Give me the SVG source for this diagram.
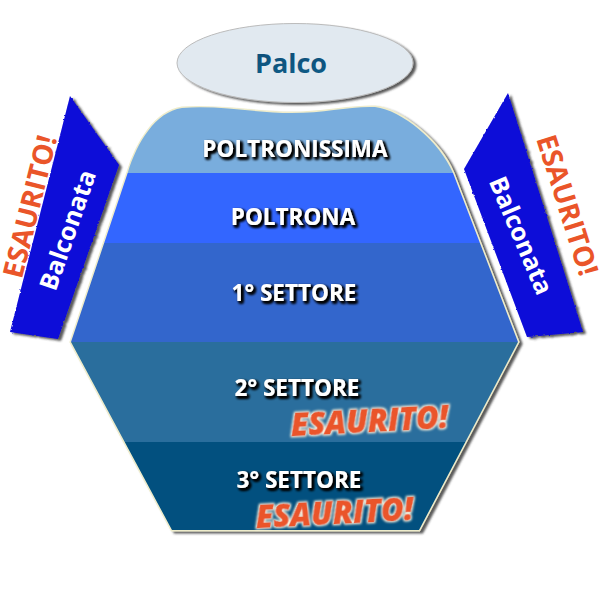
<svg xmlns="http://www.w3.org/2000/svg" width="600" height="600" viewBox="0 0 600 600">
<style>
.t{font-family:"Open Sans","Noto Sans",sans-serif;font-weight:700;text-anchor:middle}
.s{fill:#fff;font-size:22.500px;filter:url(#ts)}
.b{fill:#fff;font-size:25px}
.e{fill:#ea5529}
.ei{font-size:31px;font-style:italic;font-weight:800;stroke:#ea5529;stroke-width:.6;filter:url(#eg)}
.bal{fill:#0a08d8;filter:url(#rough)}
</style>
<defs>
<filter id="ds" x="-20%" y="-20%" width="140%" height="140%"><feDropShadow dx="3" dy="2" stdDeviation="1.200" flood-color="#333" flood-opacity=".8"/></filter>
<filter id="rough" x="-20%" y="-20%" width="140%" height="140%"><feTurbulence type="fractalNoise" baseFrequency=".35" numOctaves="1" seed="3" result="n"/><feDisplacementMap in="SourceGraphic" in2="n" scale="2.500" xChannelSelector="R" yChannelSelector="G" result="d"/><feDropShadow in="d" dx="3" dy="2" stdDeviation="1.200" flood-color="#333" flood-opacity=".8"/></filter>
<filter id="ts" x="-20%" y="-40%" width="140%" height="180%"><feGaussianBlur in="SourceAlpha" stdDeviation="1.600" result="b"/><feOffset in="b" dx="2" dy="2" result="o"/><feFlood flood-color="#000"/><feComposite in2="o" operator="in" result="c"/><feMerge><feMergeNode in="c"/><feMergeNode in="c"/><feMergeNode in="c"/><feMergeNode in="SourceGraphic"/></feMerge></filter>
<filter id="eg" x="-20%" y="-40%" width="140%" height="180%"><feMorphology in="SourceAlpha" operator="dilate" radius="1.200" result="d"/><feGaussianBlur in="d" stdDeviation=".8" result="b"/><feFlood flood-color="#fff6e0"/><feComposite in2="b" operator="in"/><feMerge><feMergeNode/><feMergeNode in="SourceGraphic"/></feMerge></filter>
<linearGradient id="pg" x1="0" y1="0" x2="0" y2="1"><stop offset="0" stop-color="#0d4a75"/><stop offset="1" stop-color="#0f5f8a"/></linearGradient>
<path id="hall" d="M71 342L128 172C137 143 155 112 182 108C220 105 255 113 292 113C325 113 350 106 375 107C402 110 440 142 453 173L518 342L419 530L172 530Z"/>
<clipPath id="hc"><use href="#hall"/></clipPath>
</defs>
<g id="palco">
<ellipse cx="295" cy="63" rx="118" ry="39.500" fill="#e1e9f0" stroke="#bbb" stroke-width="1" style="filter:url(#ds)"/>
<text class="t" x="291" y="73" font-size="27" fill="url(#pg)">Palco</text>
</g>
<g id="platea">
<use href="#hall" fill="#3366cc" stroke="#eeeccb" stroke-width="3" style="filter:url(#ds)"/>
<g clip-path="url(#hc)">
<rect x="60" y="100" width="470" height="73" fill="#79addd"/>
<rect x="60" y="173" width="470" height="70" fill="#3366ff"/>
<rect x="60" y="243" width="470" height="99" fill="#3366cc"/>
<rect x="60" y="342" width="470" height="100" fill="#2a6e9d"/>
<rect x="60" y="442" width="470" height="90" fill="#02507f"/>
</g>
</g>
<g id="poltronissima"><text class="t s" x="295" y="157">POLTRONISSIMA</text></g>
<g id="poltrona"><text class="t s" x="293" y="225">POLTRONA</text></g>
<g id="settore1"><text class="t s" x="294" y="301">1° SETTORE</text></g>
<g id="settore2"><text class="t s" x="297" y="396">2° SETTORE</text>
<text class="t ei e" transform="translate(370 432) rotate(-3)">ESAURITO!</text></g>
<g id="settore3"><text class="t s" x="299" y="488">3° SETTORE</text>
<text class="t ei e" transform="translate(335 524) rotate(-3)">ESAURITO!</text></g>
<g id="balconata-sx">
<polygon class="bal" points="70,96 119,165 58,339 10,332"/>
<text class="t b" transform="translate(76 233) rotate(-71)">Balconata</text>
<text class="t e" font-size="28" transform="translate(39.500 209) rotate(-76)">ESAURITO!</text>
</g>
<g id="balconata-dx">
<polygon class="bal" points="508,93 464,169 527,337 583,332"/>
<text class="t b" transform="translate(513 239) rotate(67)">Balconata</text>
<text class="t e" font-size="28" transform="translate(558 208) rotate(72.500)">ESAURITO!</text>
</g>
<g id="connectors"></g>
</svg>
